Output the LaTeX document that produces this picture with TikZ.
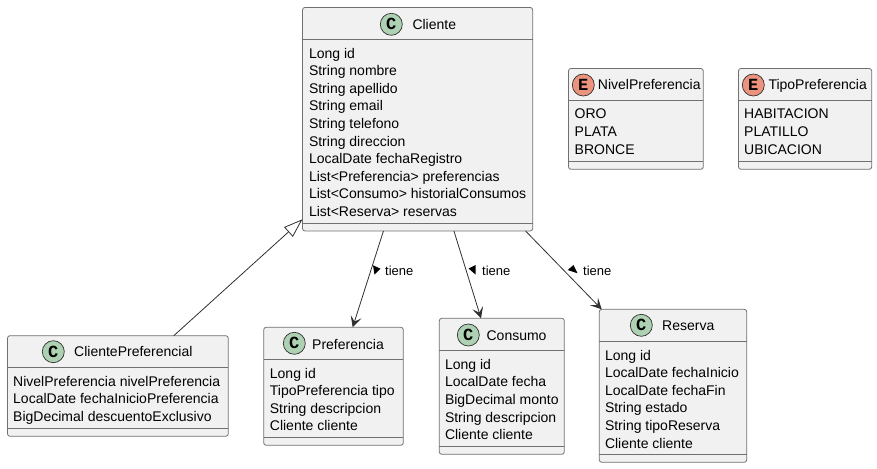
\documentclass[tikz,border=0pt]{standalone}
\usepackage{fontspec}
\setmainfont{Liberation Sans}
\newfontfamily\spotfont{Liberation Mono}
\usetikzlibrary{arrows.meta}
\usetikzlibrary{positioning}
\definecolor{boxfill}{HTML}{F1F1F1}
\definecolor{boxline}{HTML}{707070}
\definecolor{linedark}{HTML}{303030}
\definecolor{classgreen}{HTML}{ADD1B2}
\definecolor{enumred}{HTML}{EB937F}
\tikzset{
  classbox/.style={
    draw=boxline,
    fill=boxfill,
    rectangle,
    rounded corners=2.5pt,
    line width=0.8pt,
    inner sep=0,
    outer sep=0,
  },
  divider/.style={
    draw=boxline,
    line width=0.8pt,
  },
  spot/.style={
    draw=linedark,
    circle,
    line width=0.7pt,
    minimum size=22pt,
    inner sep=0,
    node font=\spotfont\bfseries\fontsize{17}{17}\selectfont,
  },
  classspot/.style={
    spot,
    fill=classgreen,
  },
  enumspot/.style={
    spot,
    fill=enumred,
  },
  classtitle/.style={
    anchor=base west,
    inner sep=0,
    node font=\fontsize{14}{17.55}\selectfont,
  },
  members/.style={
    anchor=north west,
    align=left,
    inner sep=0,
    node font=\fontsize{14}{17.55}\selectfont,
    execute at begin node=\strut,
  },
  flow/.style={
    draw=linedark,
    line width=0.8pt,
    -{Stealth[length=11pt,width=11pt,inset=5pt]},
  },
  inherit/.style={
    draw=linedark,
    line width=0.8pt,
    -{Triangle[open,fill=white,length=19pt,width=13pt]},
  },
  flowlabel/.style={
    anchor=base west,
    inner sep=0,
    node font=\fontsize{13}{15}\selectfont,
  },
  flowmark/.style={
    fill=black,
  },
}
\begin{document}
\begin{tikzpicture}[x=1pt,y=-1pt]
  \useasboundingbox (0,0) rectangle (877,468);

  % Cliente
  \node (cliente) [classbox,minimum width=230.2pt,minimum height=223.5pt] at (417.6,119.2) {};
  \node (cliente spot) [classspot] at (391.3,24.3) {C};
  \node (cliente title) [classtitle] at (412.3,29.3) {Cliente};
  \draw [divider] (cliente.west |- 0,39.3) -- (cliente.east |- 0,39.3);
  \draw [divider] (cliente.west |- 0,223.3) -- (cliente.east |- 0,223.3);
  \node (cliente members) [members] at (308.8,48) {Long id\\String nombre\\String apellido\\String email\\String telefono\\String direccion\\LocalDate fechaRegistro\\List<Preferencia> preferencias\\List<Consumo> historialConsumos\\List<Reserva> reservas};

  % NivelPreferencia
  \node (nivel) [classbox,minimum width=134.8pt,minimum height=100.8pt] at (635.9,118.9) {};
  \node (nivel spot) [enumspot] at (583.3,85) {E};
  \node (nivel title) [classtitle] at (597.7,90) {NivelPreferencia};
  \draw [divider] (nivel.west |- 0,100.7) -- (nivel.east |- 0,100.7);
  \draw [divider] (nivel.west |- 0,161.3) -- (nivel.east |- 0,161.3);
  \node (nivel members) [members] at (574.5,109) {ORO\\PLATA\\BRONCE};

  % TipoPreferencia
  \node (tipo) [classbox,minimum width=133.2pt,minimum height=100.8pt] at (805.1,118.9) {};
  \node (tipo spot) [enumspot] at (753.3,85) {E};
  \node (tipo title) [classtitle] at (768.3,90) {TipoPreferencia};
  \draw [divider] (tipo.west |- 0,100.7) -- (tipo.east |- 0,100.7);
  \draw [divider] (tipo.west |- 0,161.3) -- (tipo.east |- 0,161.3);
  \node (tipo members) [members] at (744,109) {HABITACION\\PLATILLO\\UBICACION};

  % ClientePreferencial
  \node (especial) [classbox,minimum width=220.8pt,minimum height=100.6pt] at (117.9,386) {};
  \node (especial spot) [classspot] at (53.3,351.7) {C};
  \node (especial title) [classtitle] at (74,356.7) {ClientePreferencial};
  \draw [divider] (especial.west |- 0,367.3) -- (especial.east |- 0,367.3);
  \draw [divider] (especial.west |- 0,428.3) -- (especial.east |- 0,428.3);
  \node (especial members) [members] at (13,376) {NivelPreferencia nivelPreferencia\\LocalDate fechaInicioPreferencia\\BigDecimal descuentoExclusivo};

  % Preferencia
  \node (preferencia) [classbox,minimum width=139.6pt,minimum height=118pt] at (333.5,386.3) {};
  \node (preferencia spot) [classspot] at (294.3,343.3) {C};
  \node (preferencia title) [classtitle] at (312,349) {Preferencia};
  \draw [divider] (preferencia.west |- 0,359.3) -- (preferencia.east |- 0,359.3);
  \draw [divider] (preferencia.west |- 0,437.3) -- (preferencia.east |- 0,437.3);
  \node (preferencia members) [members] at (269.7,368) {Long id\\TipoPreferencia tipo\\String descripcion\\Cliente cliente};

  % Consumo
  \node (consumo) [classbox,minimum width=125pt,minimum height=136pt] at (501.8,386.3) {};
  \node (consumo spot) [classspot] at (468.3,335) {C};
  \node (consumo title) [classtitle] at (486.4,340) {Consumo};
  \draw [divider] (consumo.west |- 0,350.7) -- (consumo.east |- 0,350.7);
  \draw [divider] (consumo.west |- 0,446) -- (consumo.east |- 0,446);
  \node (consumo members) [members] at (444.8,359) {Long id\\LocalDate fecha\\BigDecimal monto\\String descripcion\\Cliente cliente};

  % Reserva
  \node (reserva) [classbox,minimum width=147.4pt,minimum height=153pt] at (673,385.8) {};
  \node (reserva spot) [classspot] at (641.3,325.3) {C};
  \node (reserva title) [classtitle] at (662,330.7) {Reserva};
  \draw [divider] (reserva.west |- 0,341.3) -- (reserva.east |- 0,341.3);
  \draw [divider] (reserva.west |- 0,454) -- (reserva.east |- 0,454);
  \node (reserva members) [members] at (604.8,350) {Long id\\LocalDate fechaInicio\\LocalDate fechaFin\\String estado\\String tipoReserva\\Cliente cliente};

  \path [inherit] (especial.42.2) -- (cliente.221.5);
  \path [flow] (cliente.-107.3) -- (preferencia.72.3);
  \path [flow] (cliente.-72.8) -- (consumo.107.8);
  \path [flow] (cliente.-46.3) -- (reserva.133.9);

  \node (tiene preferencia) [flowlabel] at (385,275.5) {tiene};
  \node (tiene consumo) [flowlabel] at (482,275.5) {tiene};
  \node (tiene reserva) [flowlabel] at (583,275.5) {tiene};
  \fill [flowmark] (373,265.3) -- (380.5,268.7) -- (374.5,274.5) -- cycle;
  \fill [flowmark] (475.5,265) -- (475.5,274.5) -- (468.5,268.5) -- cycle;
  \fill [flowmark] (573.5,265) -- (577.5,273.3) -- (567.7,270) -- cycle;
\end{tikzpicture}
\end{document}
